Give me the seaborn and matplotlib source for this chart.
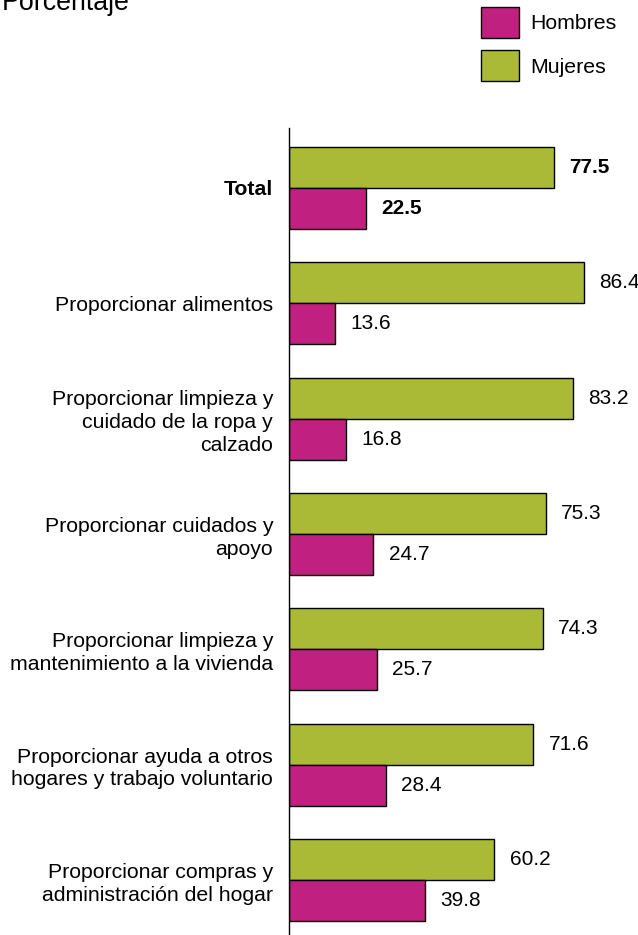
import pandas as pd
import matplotlib.pyplot as plt
import seaborn as sns
from matplotlib.patches import Patch

# data
categorias = [
    'Total',
    'Proporcionar alimentos',
    'Proporcionar limpieza y\ncuidado de la ropa y\ncalzado',
    'Proporcionar cuidados y\napoyo',
    'Proporcionar limpieza y\nmantenimiento a la vivienda',
    'Proporcionar ayuda a otros\nhogares y trabajo voluntario',
    'Proporcionar compras y\nadministración del hogar',
]
mujeres = [77.5, 86.4, 83.2, 75.3, 74.3, 71.6, 60.2]
hombres = [22.5, 13.6, 16.8, 24.7, 25.7, 28.4, 39.8]
sexos = ['Mujeres', 'Hombres']

GREEN = '#AABA37'
PINK = '#C02080'

df = pd.DataFrame({
    'categoria': categorias * 2,
    'sexo': ['Mujeres'] * len(categorias) + ['Hombres'] * len(categorias),
    'valor': mujeres + hombres,
})

sns.set_theme(style='white')
plt.rcParams['font.family'] = ['Liberation Sans', 'DejaVu Sans']

fig = plt.figure(figsize=(6.38, 9.35), dpi=100)
ax = fig.add_axes([289 / 638, 0.0, 341.3 / 638, 1 - 128 / 935])

sns.barplot(data=df, y='categoria', x='valor', hue='sexo', hue_order=sexos,
            palette={'Mujeres': GREEN, 'Hombres': PINK}, orient='h',
            width=0.711, saturation=1, edgecolor='black', linewidth=1,
            legend=False, ax=ax)

ax.set_xlim(0, 100)
ax.set_ylim(6.477, -0.52)
ax.set_xlabel('')
ax.set_ylabel('')
ax.set_xticks([])

for side in ['top', 'right', 'bottom']:
    ax.spines[side].set_visible(False)
ax.spines['left'].set_color('black')
ax.spines['left'].set_linewidth(1)

ax.tick_params(axis='y', length=0, pad=11.5, labelsize=15.3, labelcolor='black')
for lbl in ax.get_yticklabels():
    lbl.set_linespacing(1.25)
ax.get_yticklabels()[0].set_fontweight('bold')

for cont in ax.containers:
    texts = ax.bar_label(cont, fmt='%.1f', padding=11, fontsize=15, color='black')
    texts[0].set_fontweight('bold')

fig.text(2 / 638, 1 - 10 / 935, 'Porcentaje', fontsize=19.3, va='baseline',
         ha='left', color='black')

handles = [Patch(facecolor=PINK, edgecolor='black', label='Hombres'),
           Patch(facecolor=GREEN, edgecolor='black', label='Mujeres')]
fig.legend(handles=handles, loc='upper left', bbox_to_anchor=(481 / 638, 1 - 7 / 935),
           frameon=False, borderpad=0, borderaxespad=0, fontsize=15.3,
           labelcolor='black', handlelength=1.78, handleheight=1.866,
           handletextpad=0.53, labelspacing=0.58)

fig.savefig('out.png', dpi=100, facecolor='white')
